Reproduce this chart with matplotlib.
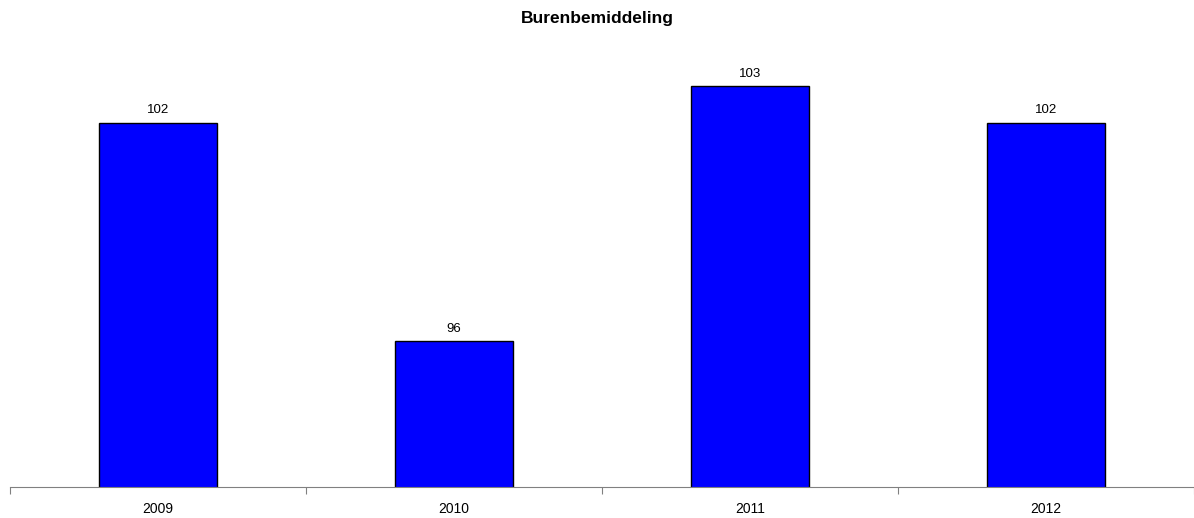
import matplotlib.pyplot as plt

years = ["2009", "2010", "2011", "2012"]
counts = [102, 96, 103, 102]

plt.rcParams['font.family'] = ['Liberation Sans', 'DejaVu Sans']

fig = plt.figure(figsize=(11.94, 5.18), dpi=100)
ax = fig.add_axes([10 / 1194, 1 - 487 / 518, 1184 / 1194, (487 - 49.7) / 518])

x = list(range(len(years)))
bars = ax.bar(x, counts, width=0.4, color="#0000ff", edgecolor="black", linewidth=1)
for xi, v in zip(x, counts):
    ax.text(xi, v + 0.17, str(v), ha="center", va="bottom", fontsize=9.5)

ax.set_ylim(92, 104)
ax.set_xlim(-0.5, len(years) - 0.5)

# ticks between categories, labels at centres
ax.set_xticks([i - 0.5 for i in range(len(years) + 1)])
ax.set_xticklabels([])
ax.set_xticks(x, minor=True)
ax.set_xticklabels(years, minor=True, fontsize=10)
ax.tick_params(axis="x", which="major", length=5, color="#808080", direction="out")
ax.tick_params(axis="x", which="minor", length=0, pad=11)

ax.set_yticks([])
for s in ["left", "right", "top"]:
    ax.spines[s].set_visible(False)
ax.spines["bottom"].set_color("#808080")

fig.text(0.5, 1 - 19 / 518, "Burenbemiddeling", ha="center", va="center",
         fontsize=12.5, fontweight="bold")

fig.savefig("out.png", dpi=100)
